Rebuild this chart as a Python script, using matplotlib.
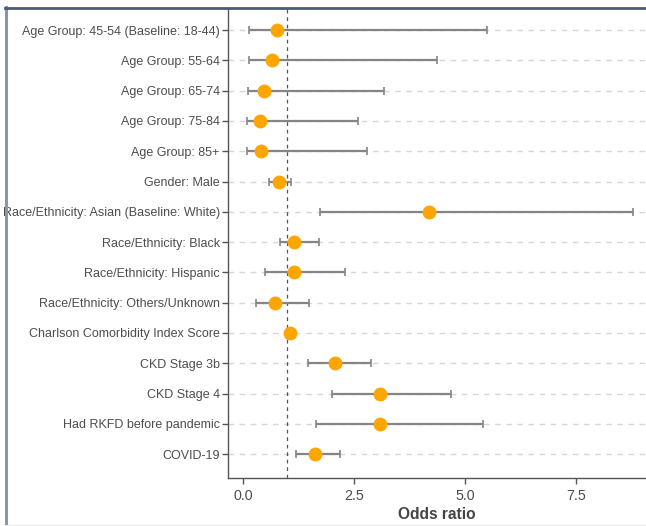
import matplotlib
matplotlib.use("Agg")
import matplotlib.pyplot as plt
from matplotlib.lines import Line2D
import numpy as np

labels = [
    "Age Group: 45-54 (Baseline: 18-44)",
    "Age Group: 55-64",
    "Age Group: 65-74",
    "Age Group: 75-84",
    "Age Group: 85+",
    "Gender: Male",
    "Race/Ethnicity: Asian (Baseline: White)",
    "Race/Ethnicity: Black",
    "Race/Ethnicity: Hispanic",
    "Race/Ethnicity: Others/Unknown",
    "Charlson Comorbidity Index Score",
    "CKD Stage 3b",
    "CKD Stage 4",
    "Had RKFD before pandemic",
    "COVID-19",
]
odds = [0.76, 0.66, 0.48, 0.38, 0.40, 0.80, 4.20, 1.15, 1.14, 0.72, 1.07, 2.07, 3.08, 3.09, 1.62]
lower = [0.14, 0.14, 0.12, 0.10, 0.10, 0.59, 1.73, 0.83, 0.49, 0.30, 1.04, 1.47, 2.01, 1.64, 1.19]
upper = [5.50, 4.38, 3.18, 2.58, 2.79, 1.08, 8.79, 1.72, 2.29, 1.49, 1.10, 2.89, 4.69, 5.40, 2.19]
xticks = [0.0, 2.5, 5.0, 7.5]
xticklabels = ["0.0", "2.5", "5.0", "7.5"]

plt.rcParams["font.family"] = ["Liberation Sans", "DejaVu Sans"]

W, H = 646, 526
fig = plt.figure(figsize=(W / 100, H / 100), dpi=100)
ax = fig.add_axes([228 / W, 1 - 478 / H, 1 - 228 / W, (478 - 8) / H])

y = np.arange(len(labels))
odds_a = np.array(odds)
lo = odds_a - np.array(lower)
hi = np.array(upper) - odds_a

for yi in y:
    ax.axhline(yi, color="#d6d6d6", lw=1.0, ls=(0, (4, 4)), zorder=0)
ax.axvline(1.0, color="#555555", lw=0.9, ls=(0, (3, 3)), zorder=1)
ax.errorbar(odds_a, y, xerr=[lo, hi], fmt="none", ecolor="#858585",
            elinewidth=1.6, capsize=3, capthick=1.2, zorder=2)
ax.plot(odds_a, y, "o", color="#FFA500", ms=10, mec="none", zorder=3)

ax.set_ylim(14.79, -0.73)
ax.set_xlim(-0.338, 9.08)
ax.set_yticks(y)
ax.set_yticklabels(labels, fontsize=9.0, color="#4d4d4d")
ax.set_xticks(xticks)
ax.set_xticklabels(xticklabels, fontsize=10.3, color="#4d4d4d")
ax.tick_params(axis="both", length=4, width=1, color="#555555", pad=2)
ax.tick_params(axis="x", pad=4)
ax.set_xlabel("Odds ratio", fontsize=11.2, fontweight="bold", color="#444444", labelpad=3)
for s in ["top", "right"]:
    ax.spines[s].set_visible(False)
for s in ["left", "bottom"]:
    ax.spines[s].set_color("#555555")
    ax.spines[s].set_linewidth(1.0)

# outer frame of the picture
fig.add_artist(Line2D([5.5 / W, 5.5 / W], [0, 1 - 7 / H], transform=fig.transFigure,
                      color="#8a96ab", lw=2.2))
fig.add_artist(Line2D([5 / W, 1], [1 - 7.5 / H, 1 - 7.5 / H], transform=fig.transFigure,
                      color="#4b5b78", lw=2.0))
fig.add_artist(Line2D([5 / W, 1], [0.5 / H, 0.5 / H], transform=fig.transFigure,
                      color="#e6e8ec", lw=1.5))

fig.savefig("out.png", dpi=100)
